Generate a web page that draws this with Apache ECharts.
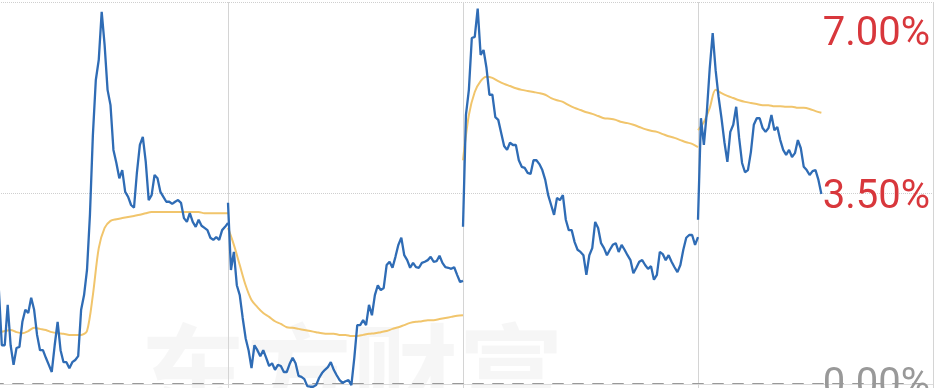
<!DOCTYPE html>
<html><head><meta charset="utf-8">
<script src="https://cdn.jsdelivr.net/npm/echarts@6/dist/echarts.min.js"></script>
<style>html,body{margin:0;padding:0;background:#fff}#c{width:946px;height:388px}</style>
</head><body><div id="c"></div>
<script>
// x positions are trading-day indices; each period spans 80 indices
const segLen = 80;
const yTicks = [0, 3.5, 7];
const watermark = '东方财富';

// blue: daily yield (%), one array per period, with its first index
const blue1Start = 2;
const blue1 = [1.72,0.71,0.71,1.45,0.71,0.35,0.66,0.68,1.14,1.36,
1.30,1.58,1.36,0.90,0.62,0.62,0.48,0.35,0.22,0.71,
1.14,0.62,0.40,0.40,0.29,0.40,0.44,0.51,1.36,1.63,
2.09,3.10,4.56,5.57,5.94,6.82,6.21,5.39,5.11,4.29,
4.05,3.77,3.92,3.52,3.43,3.28,3.23,3.88,4.38,4.53,
4.07,3.37,3.46,3.83,3.77,3.52,3.43,3.34,3.34,3.30,
3.34,3.37,3.32,3.04,2.97,3.13,2.97,2.88,3.01,2.90,
2.86,2.82,2.68,2.64,2.69,2.64,2.82,2.88,2.95];
const blue2Start = 80;
const blue2 = [3.32,2.09,2.42,1.81,1.63,1.21,0.84,0.62,0.29,0.71,
0.62,0.51,0.62,0.48,0.33,0.38,0.26,0.35,0.33,0.22,
0.22,0.37,0.48,0.38,0.15,0.13,0.09,-0.04,-0.05,-0.05,
-0.02,0.11,0.20,0.26,0.31,0.40,0.26,0.16,0.07,0.02,
0.05,0.07,-0.02,0.48,1.08,1.08,1.17,1.08,1.45,1.26,
1.63,1.81,1.72,1.76,2.18,2.24,2.13,2.33,2.55,2.68,
2.36,2.27,2.13,2.22,2.14,2.13,2.22,2.24,2.27,2.33,
2.24,2.25,2.35,2.22,2.14,2.13,2.11,2.14,2.00,1.87,
1.89];
const blue3Start = 160;
const blue3 = [2.88,4.93,5.39,6.34,6.36,6.88,6.03,6.12,5.79,5.30,
5.30,4.89,4.84,4.60,4.36,4.29,4.42,4.38,4.38,4.10,
3.98,3.96,3.87,3.85,4.10,4.10,4.03,3.92,3.74,3.46,
3.28,3.10,3.41,3.37,3.46,3.01,2.82,2.82,2.60,2.46,
2.42,2.36,2.00,2.36,2.49,2.97,2.86,2.58,2.49,2.36,
2.46,2.55,2.58,2.42,2.55,2.46,2.36,2.27,2.03,2.13,
2.24,2.27,2.18,2.11,2.16,1.91,2.00,2.42,2.38,2.27,
2.36,2.24,2.14,2.05,2.18,2.46,2.68,2.73,2.73,2.55,
2.69];
const blue4Start = 240;
const blue4 = [3.01,4.87,4.38,4.98,5.79,6.43,5.75,5.26,4.87,4.43,
4.07,4.62,4.75,5.08,4.51,4.05,3.88,3.92,4.25,4.75,
4.87,4.87,4.69,4.62,4.69,4.93,4.65,4.71,4.47,4.29,
4.20,4.29,4.16,4.23,4.47,4.32,3.98,3.92,3.83,3.90,
3.92,3.74,3.48];

// yellow: average yield (%), sampled every 2 indices
const yellowStep = 2;
const yellow1Start = 0;
const yellow1 = [0.95,0.95,0.97,0.99,0.95,0.93,0.97,1.03,1.01,0.99,
0.95,0.93,0.92,0.90,0.90,0.90,0.97,1.63,2.49,2.86,
2.99,3.02,3.04,3.06,3.08,3.10,3.13,3.15,3.15,3.15,
3.15,3.15,3.15,3.15,3.15,3.15,3.13,3.13,3.13,3.13,3.13];
const yellow2Start = 80;
const yellow2 = [2.86,2.55,2.18,1.81,1.54,1.41,1.30,1.23,1.15,1.10,
1.04,1.03,1.01,0.99,0.97,0.95,0.93,0.92,0.92,0.90,
0.90,0.88,0.88,0.90,0.92,0.93,0.95,0.97,1.01,1.04,
1.08,1.12,1.14,1.15,1.17,1.17,1.19,1.21,1.23,1.25,1.26];
const yellow3Start = 160;
const yellow3 = [4.10,4.93,5.35,5.55,5.63,5.61,5.55,5.50,5.46,5.42,
5.39,5.37,5.35,5.33,5.30,5.24,5.20,5.17,5.11,5.06,
5.02,4.98,4.95,4.91,4.87,4.86,4.84,4.80,4.78,4.75,
4.71,4.67,4.64,4.62,4.58,4.54,4.51,4.47,4.43,4.40,4.34];
const yellow4Start = 240;
const yellow4 = [4.65,4.80,5.06,5.39,5.33,5.28,5.24,5.20,5.17,5.15,
5.13,5.11,5.11,5.09,5.09,5.08,5.08,5.06,5.06,5.04,5.00,4.97];

function pairs(start, step, arr) { return arr.map((v, k) => [start + k * step, v]); }

const BLUE = '#2f6cb5', YELLOW = '#f1c56c', RED = '#d8373c', GRAY = '#999999';

function blueSeries(start, arr) {
  return { type: 'line', data: pairs(start, 1, arr), showSymbol: false, clip: false, z: 4,
    lineStyle: { color: BLUE, width: 2.3 }, itemStyle: { color: BLUE } };
}
function yellowSeries(start, arr) {
  return { type: 'line', data: pairs(start, yellowStep, arr), showSymbol: false, clip: false, z: 3,
    smooth: 0.3, lineStyle: { color: YELLOW, width: 2 }, itemStyle: { color: YELLOW } };
}

const chart = echarts.init(document.getElementById('c'), null, { renderer: 'canvas' });
chart.setOption({
  animation: false,
  backgroundColor: '#fff',
  grid: { left: -7, right: 13, top: 2, bottom: 4, containLabel: false, outerBoundsMode: 'none' },
  graphic: [{
    type: 'text', left: 140, top: 320, z: 0,
    style: { text: watermark, font: 'bold 106px "Noto Sans CJK SC"', fill: 'rgba(0,0,0,0.035)' }
  }],
  xAxis: [{
    type: 'value', min: 0, max: segLen * 4, interval: segLen,
    axisLine: { show: true, onZero: false, lineStyle: { color: GRAY, width: 2, type: [10, 10] } },
    axisTick: { show: true, length: 4, lineStyle: { color: '#d4d4d4', width: 1 } },
    axisLabel: { show: false },
    splitLine: { show: true, lineStyle: { color: '#d4d4d4', width: 1 } }
  }, {
    type: 'value', position: 'top', min: 0, max: segLen * 4,
    axisLine: { show: true, lineStyle: { color: '#dcdcdc', width: 1 } },
    axisTick: { show: false }, axisLabel: { show: false }, splitLine: { show: false }
  }],
  yAxis: {
    type: 'value', position: 'right', min: yTicks[0], max: yTicks[2], interval: yTicks[1] - yTicks[0],
    axisLine: { show: false }, axisTick: { show: false },
    splitLine: { show: true, lineStyle: { color: '#cfcfcf', width: 1, type: 'dotted' } },
    axisLabel: {
      inside: true, margin: 3,
      formatter: function (v) {
        const s = v.toFixed(2) + '%';
        if (v >= yTicks[2]) return '{top|' + s + '}';
        if (v <= yTicks[0]) return '{zero|' + s + '}';
        return '{mid|' + s + '}';
      },
      rich: {
        top: { color: RED, fontSize: 40, fontFamily: 'Roboto', padding: [65, 0, 0, 0] },
        mid: { color: RED, fontSize: 40, fontFamily: 'Roboto', padding: [10, 0, 0, 0] },
        zero: { color: GRAY, fontSize: 40, fontFamily: 'Roboto', padding: [4, 0, 0, 0] }
      }
    }
  },
  series: [
    yellowSeries(yellow1Start, yellow1), yellowSeries(yellow2Start, yellow2),
    yellowSeries(yellow3Start, yellow3), yellowSeries(yellow4Start, yellow4),
    blueSeries(blue1Start, blue1), blueSeries(blue2Start, blue2),
    blueSeries(blue3Start, blue3), blueSeries(blue4Start, blue4)
  ]
});
</script></body></html>
